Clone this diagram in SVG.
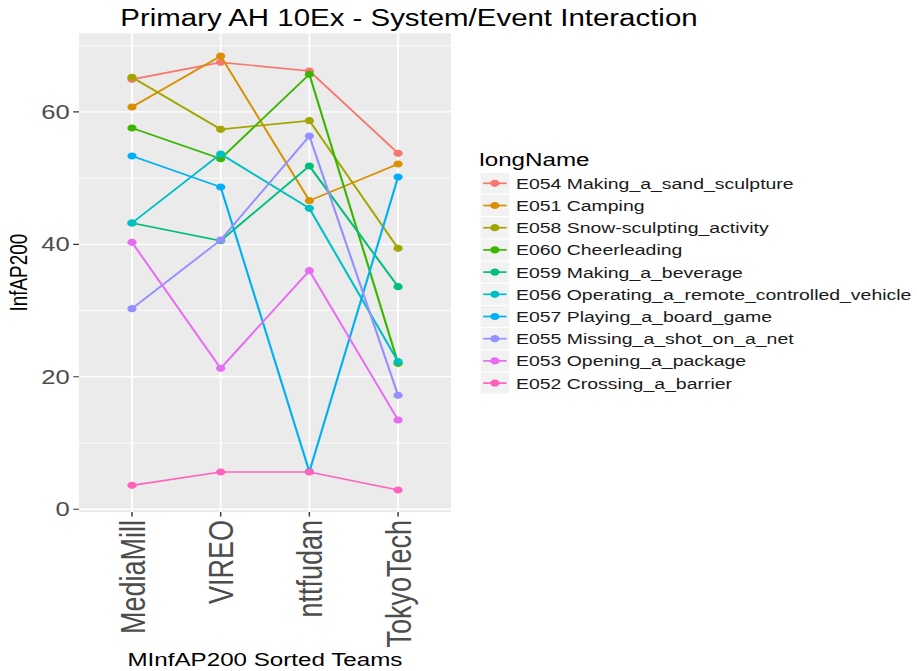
<svg xmlns="http://www.w3.org/2000/svg" width="917" height="671" viewBox="0 0 917 671">
<style>
text{font-family:"Liberation Sans",Arial,sans-serif}
.gmaj{stroke:#fff;stroke-width:1.4;fill:none}
.gmin{stroke:#fff;stroke-width:0.7;fill:none}
.tick{stroke:#333;stroke-width:1.1}
.ytl{font-size:20px;fill:#4D4D4D;text-anchor:end}
.xtl{font-size:27px;fill:#4D4D4D;text-anchor:end}
.ser polyline{fill:none;stroke-width:1.7}
.lt{font-size:15.2px;fill:#1a1a1a}
.key{fill:#F2F2F2}
</style>
<rect width="917" height="671" fill="#fff"/>
<g transform="scale(1.28,1)">
<text x="94" y="26" style="font-size:23px" fill="#000">Primary AH 10Ex - System/Event Interaction</text>
<g id="panel">
<rect x="61.7" y="33.5" width="290.6" height="478.5" fill="#EBEBEB"/>
<path class="gmin" d="M61.7 443.1H352.3M61.7 310.6H352.3M61.7 178.2H352.3M61.7 45.7H352.3"/>
<path class="gmaj" d="M61.7 509.3H352.3M61.7 376.8H352.3M61.7 244.4H352.3M61.7 111.9H352.3M103.1 33.5V512M172.4 33.5V512M241.7 33.5V512M311 33.5V512"/>
</g>
<g id="axes">
<path class="tick" d="M57.2 509.3H61.7M57.2 376.8H61.7M57.2 244.4H61.7M57.2 111.9H61.7M103.1 512V516.5M172.4 512V516.5M241.7 512V516.5M311 512V516.5"/>
<text class="ytl" x="54.5" y="516.3">0</text>
<text class="ytl" x="54.5" y="383.8">20</text>
<text class="ytl" x="54.5" y="251.4">40</text>
<text class="ytl" x="54.5" y="118.9">60</text>
<text class="xtl" transform="translate(113,520) rotate(-90)">MediaMill</text>
<text class="xtl" transform="translate(182.3,520) rotate(-90)">VIREO</text>
<text class="xtl" transform="translate(251.6,520) rotate(-90)">nttfudan</text>
<text class="xtl" transform="translate(320.9,520) rotate(-90)">TokyoTech</text>
<text transform="translate(21.1,272.7) rotate(-90)" style="font-size:18.9px;text-anchor:middle" fill="#000">InfAP200</text>
<text x="207" y="666" style="font-size:18.9px;text-anchor:middle" fill="#000">MInfAP200 Sorted Teams</text>
</g>
<g id="connectors">
<g id="E054" class="ser" fill="#F8766D"><polyline stroke="#F8766D" points="103.1,79.3 172.4,62.3 241.7,71 311,153.3"/><circle cx="103.1" cy="79.3" r="3.6"/><circle cx="172.4" cy="62.3" r="3.6"/><circle cx="241.7" cy="71" r="3.6"/><circle cx="311" cy="153.3" r="3.6"/></g>
<g id="E051" class="ser" fill="#D89000"><polyline stroke="#D89000" points="103.1,107 172.4,56 241.7,200.7 311,164"/><circle cx="103.1" cy="107" r="3.6"/><circle cx="172.4" cy="56" r="3.6"/><circle cx="241.7" cy="200.7" r="3.6"/><circle cx="311" cy="164" r="3.6"/></g>
<g id="E058" class="ser" fill="#A3A500"><polyline stroke="#A3A500" points="103.1,77.3 172.4,129.3 241.7,120.7 311,248.3"/><circle cx="103.1" cy="77.3" r="3.6"/><circle cx="172.4" cy="129.3" r="3.6"/><circle cx="241.7" cy="120.7" r="3.6"/><circle cx="311" cy="248.3" r="3.6"/></g>
<g id="E060" class="ser" fill="#39B600"><polyline stroke="#39B600" points="103.1,128 172.4,158.7 241.7,74.3 311,363.3"/><circle cx="103.1" cy="128" r="3.6"/><circle cx="172.4" cy="158.7" r="3.6"/><circle cx="241.7" cy="74.3" r="3.6"/><circle cx="311" cy="363.3" r="3.6"/></g>
<g id="E059" class="ser" fill="#00BF7D"><polyline stroke="#00BF7D" points="103.1,223 172.4,240.7 241.7,166 311,286.7"/><circle cx="103.1" cy="223" r="3.6"/><circle cx="172.4" cy="240.7" r="3.6"/><circle cx="241.7" cy="166" r="3.6"/><circle cx="311" cy="286.7" r="3.6"/></g>
<g id="E056" class="ser" fill="#00BFC4"><polyline stroke="#00BFC4" points="103.1,223 172.4,154 241.7,208.3 311,361.7"/><circle cx="103.1" cy="223" r="3.6"/><circle cx="172.4" cy="154" r="3.6"/><circle cx="241.7" cy="208.3" r="3.6"/><circle cx="311" cy="361.7" r="3.6"/></g>
<g id="E057" class="ser" fill="#00B0F6"><polyline stroke="#00B0F6" points="103.1,156 172.4,187 241.7,471.7 311,177"/><circle cx="103.1" cy="156" r="3.6"/><circle cx="172.4" cy="187" r="3.6"/><circle cx="241.7" cy="471.7" r="3.6"/><circle cx="311" cy="177" r="3.6"/></g>
<g id="E055" class="ser" fill="#9590FF"><polyline stroke="#9590FF" points="103.1,308.7 172.4,240 241.7,136 311,395.3"/><circle cx="103.1" cy="308.7" r="3.6"/><circle cx="172.4" cy="240" r="3.6"/><circle cx="241.7" cy="136" r="3.6"/><circle cx="311" cy="395.3" r="3.6"/></g>
<g id="E053" class="ser" fill="#E76BF3"><polyline stroke="#E76BF3" points="103.1,242.3 172.4,368.3 241.7,270.7 311,420"/><circle cx="103.1" cy="242.3" r="3.6"/><circle cx="172.4" cy="368.3" r="3.6"/><circle cx="241.7" cy="270.7" r="3.6"/><circle cx="311" cy="420" r="3.6"/></g>
<g id="E052" class="ser" fill="#FF62BC"><polyline stroke="#FF62BC" points="103.1,485.3 172.4,472 241.7,472 311,490"/><circle cx="103.1" cy="485.3" r="3.6"/><circle cx="172.4" cy="472" r="3.6"/><circle cx="241.7" cy="472" r="3.6"/><circle cx="311" cy="490" r="3.6"/></g>
</g>
<g id="legend">
<text x="374.5" y="166" style="font-size:18.9px" fill="#000">longName</text>
<g id="k054"><rect class="key" x="375.5" y="172.8" width="22.3" height="21"/><path d="M377.5 183.3H395.8" stroke="#F8766D" stroke-width="1.7"/><circle cx="386.6" cy="183.3" r="3.6" fill="#F8766D"/><text class="lt" x="403.1" y="188.8">E054 Making_a_sand_sculpture</text></g>
<g id="k051"><rect class="key" x="375.5" y="195" width="22.3" height="21"/><path d="M377.5 205.5H395.8" stroke="#D89000" stroke-width="1.7"/><circle cx="386.6" cy="205.5" r="3.6" fill="#D89000"/><text class="lt" x="403.1" y="211">E051 Camping</text></g>
<g id="k058"><rect class="key" x="375.5" y="217.2" width="22.3" height="21"/><path d="M377.5 227.7H395.8" stroke="#A3A500" stroke-width="1.7"/><circle cx="386.6" cy="227.7" r="3.6" fill="#A3A500"/><text class="lt" x="403.1" y="233.2">E058 Snow-sculpting_activity</text></g>
<g id="k060"><rect class="key" x="375.5" y="239.4" width="22.3" height="21"/><path d="M377.5 249.9H395.8" stroke="#39B600" stroke-width="1.7"/><circle cx="386.6" cy="249.9" r="3.6" fill="#39B600"/><text class="lt" x="403.1" y="255.4">E060 Cheerleading</text></g>
<g id="k059"><rect class="key" x="375.5" y="261.6" width="22.3" height="21"/><path d="M377.5 272.1H395.8" stroke="#00BF7D" stroke-width="1.7"/><circle cx="386.6" cy="272.1" r="3.6" fill="#00BF7D"/><text class="lt" x="403.1" y="277.6">E059 Making_a_beverage</text></g>
<g id="k056"><rect class="key" x="375.5" y="283.8" width="22.3" height="21"/><path d="M377.5 294.3H395.8" stroke="#00BFC4" stroke-width="1.7"/><circle cx="386.6" cy="294.3" r="3.6" fill="#00BFC4"/><text class="lt" x="403.1" y="299.8">E056 Operating_a_remote_controlled_vehicle</text></g>
<g id="k057"><rect class="key" x="375.5" y="306" width="22.3" height="21"/><path d="M377.5 316.5H395.8" stroke="#00B0F6" stroke-width="1.7"/><circle cx="386.6" cy="316.5" r="3.6" fill="#00B0F6"/><text class="lt" x="403.1" y="322">E057 Playing_a_board_game</text></g>
<g id="k055"><rect class="key" x="375.5" y="328.2" width="22.3" height="21"/><path d="M377.5 338.7H395.8" stroke="#9590FF" stroke-width="1.7"/><circle cx="386.6" cy="338.7" r="3.6" fill="#9590FF"/><text class="lt" x="403.1" y="344.2">E055 Missing_a_shot_on_a_net</text></g>
<g id="k053"><rect class="key" x="375.5" y="350.4" width="22.3" height="21"/><path d="M377.5 360.9H395.8" stroke="#E76BF3" stroke-width="1.7"/><circle cx="386.6" cy="360.9" r="3.6" fill="#E76BF3"/><text class="lt" x="403.1" y="366.4">E053 Opening_a_package</text></g>
<g id="k052"><rect class="key" x="375.5" y="372.6" width="22.3" height="21"/><path d="M377.5 383.1H395.8" stroke="#FF62BC" stroke-width="1.7"/><circle cx="386.6" cy="383.1" r="3.6" fill="#FF62BC"/><text class="lt" x="403.1" y="388.6">E052 Crossing_a_barrier</text></g>
</g>
</g>
</svg>
